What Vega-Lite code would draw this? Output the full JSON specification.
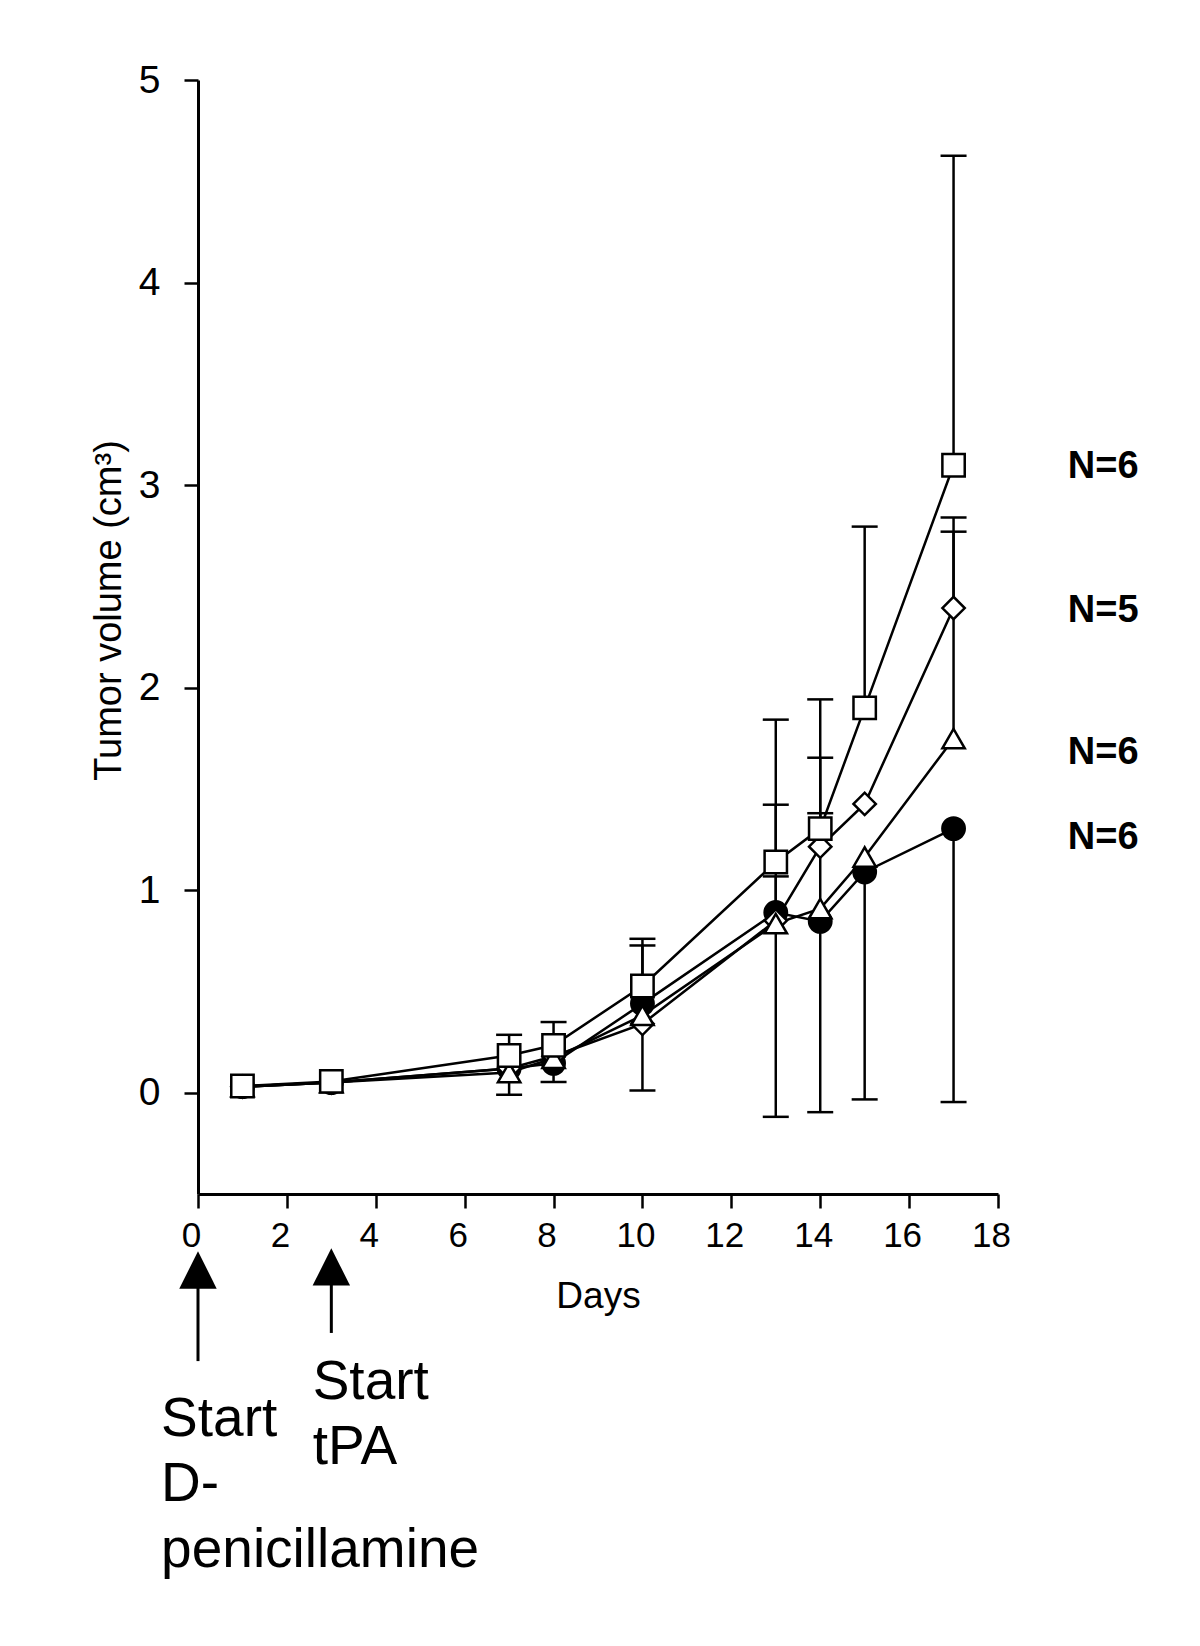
{
  "$schema": "https://vega.github.io/schema/vega-lite/v6.json",
  "width": 800,
  "height": 1114,
  "autosize": {"type": "none"},
  "padding": {"left": 198, "top": 80, "right": 202, "bottom": 452},
  "background": "white",
  "config": {"view": {"stroke": null}, "font": "Liberation Sans"},
  "datasets": {
    "series": [
      {"group": "circle", "day": 1, "vol": 0.03, "err": null},
      {"group": "circle", "day": 3, "vol": 0.05, "err": null},
      {"group": "circle", "day": 7, "vol": 0.12, "err": -0.01},
      {"group": "circle", "day": 8, "vol": 0.145, "err": 0.053},
      {"group": "circle", "day": 10, "vol": 0.44, "err": 0.011},
      {"group": "circle", "day": 13, "vol": 0.89, "err": -0.119},
      {"group": "circle", "day": 14, "vol": 0.846, "err": -0.096},
      {"group": "circle", "day": 15, "vol": 1.09, "err": -0.033},
      {"group": "circle", "day": 17, "vol": 1.304, "err": -0.046},
      {"group": "diamond", "day": 1, "vol": 0.03, "err": null},
      {"group": "diamond", "day": 3, "vol": 0.05, "err": null},
      {"group": "diamond", "day": 7, "vol": 0.12, "err": null},
      {"group": "diamond", "day": 8, "vol": 0.18, "err": null},
      {"group": "diamond", "day": 10, "vol": 0.34, "err": null},
      {"group": "diamond", "day": 13, "vol": 0.85, "err": 1.422},
      {"group": "diamond", "day": 14, "vol": 1.215, "err": 1.654},
      {"group": "diamond", "day": 15, "vol": 1.426, "err": null},
      {"group": "diamond", "day": 17, "vol": 2.393, "err": 2.77},
      {"group": "triangle", "day": 1, "vol": 0.03, "err": null},
      {"group": "triangle", "day": 3, "vol": 0.05, "err": null},
      {"group": "triangle", "day": 7, "vol": 0.1, "err": null},
      {"group": "triangle", "day": 8, "vol": 0.17, "err": null},
      {"group": "triangle", "day": 10, "vol": 0.382, "err": 0.727},
      {"group": "triangle", "day": 13, "vol": 0.835, "err": 1.068},
      {"group": "triangle", "day": 14, "vol": 0.909, "err": 1.38},
      {"group": "triangle", "day": 15, "vol": 1.164, "err": null},
      {"group": "triangle", "day": 17, "vol": 1.748, "err": 2.84},
      {"group": "square", "day": 1, "vol": 0.033, "err": null},
      {"group": "square", "day": 3, "vol": 0.056, "err": null},
      {"group": "square", "day": 7, "vol": 0.184, "err": 0.286},
      {"group": "square", "day": 8, "vol": 0.234, "err": 0.349},
      {"group": "square", "day": 10, "vol": 0.527, "err": 0.76},
      {"group": "square", "day": 13, "vol": 1.139, "err": 1.842},
      {"group": "square", "day": 14, "vol": 1.304, "err": 1.942},
      {"group": "square", "day": 15, "vol": 1.9, "err": 2.795},
      {"group": "square", "day": 17, "vol": 3.098, "err": 4.626}
    ],
    "nlabels": [
      {"day": 19.57, "vol": 3.035, "label": "N=6"},
      {"day": 19.57, "vol": 2.326, "label": "N=5"},
      {"day": 19.57, "vol": 1.621, "label": "N=6"},
      {"day": 19.57, "vol": 1.201, "label": "N=6"}
    ],
    "shafts": [
      {"day": 0, "vol": -0.92, "vol2": -1.325},
      {"day": 3, "vol": -0.92, "vol2": -1.186}
    ],
    "heads": [
      {"day": 0, "vol": -0.875},
      {"day": 3, "vol": -0.86}
    ],
    "notes": [
      {"day": -0.83, "vol": -1.694, "label": ["Start", "D-", "penicillamine"]},
      {"day": 2.58, "vol": -1.511, "label": ["Start", "tPA"]}
    ]
  },
  "encoding": {
    "x": {
      "field": "day",
      "type": "quantitative",
      "scale": {"domain": [0, 18], "nice": false, "zero": false},
      "axis": {
        "title": "Days",
        "values": [0, 2, 4, 6, 8, 10, 12, 14, 16, 18],
        "grid": false,
        "tickSize": 14,
        "tickWidth": 2.5,
        "tickColor": "black",
        "domainColor": "black",
        "domainWidth": 3,
        "labelFont": "Liberation Sans",
        "labelFontSize": 35,
        "labelColor": "black",
        "labelPadding": 10,
        "labelOffset": -7,
        "labelFlush": false,
        "labelOverlap": false,
        "titleFont": "Liberation Sans",
        "titleFontSize": 37,
        "titleFontWeight": "normal",
        "titleColor": "black",
        "titleY": 84
      }
    },
    "y": {
      "field": "vol",
      "type": "quantitative",
      "scale": {"domain": [-0.5, 5], "nice": false, "zero": false},
      "axis": {
        "title": "Tumor volume (cm³)",
        "values": [0, 1, 2, 3, 4, 5],
        "grid": false,
        "tickSize": 14,
        "tickWidth": 2.5,
        "tickColor": "black",
        "domainColor": "black",
        "domainWidth": 3,
        "labelFont": "Liberation Sans",
        "labelFontSize": 39,
        "labelColor": "black",
        "labelPadding": 24,
        "labelDy": 3,
        "labelFlush": false,
        "labelOverlap": false,
        "titleFont": "Liberation Sans",
        "titleFontSize": 38,
        "titleFontWeight": "normal",
        "titleColor": "black",
        "titleX": -70,
        "titleY": 530
      }
    }
  },
  "layer": [
    {
      "data": {"name": "series"},
      "transform": [{"filter": "datum.err != null"}],
      "mark": {"type": "rule", "color": "black", "strokeWidth": 2.5},
      "encoding": {"y2": {"field": "err"}}
    },
    {
      "data": {"name": "series"},
      "transform": [{"filter": "datum.err != null"}],
      "mark": {"type": "point", "shape": "M-1,0L1,0", "size": 676, "filled": false, "stroke": "black", "strokeWidth": 2.5, "opacity": 1},
      "encoding": {"y": {"field": "err", "type": "quantitative"}}
    },
    {
      "data": {"name": "series"},
      "mark": {"type": "line", "color": "black", "strokeWidth": 2.5},
      "encoding": {"detail": {"field": "group"}}
    },
    {
      "data": {"name": "series"},
      "mark": {"type": "point", "filled": true, "stroke": "black", "strokeWidth": 2.5, "size": 500, "opacity": 1},
      "encoding": {
        "shape": {
          "field": "group",
          "type": "nominal",
          "scale": {"domain": ["circle", "diamond", "triangle", "square"], "range": ["circle", "diamond", "triangle-up", "square"]},
          "legend": null
        },
        "fill": {
          "field": "group",
          "type": "nominal",
          "scale": {"domain": ["circle", "diamond", "triangle", "square"], "range": ["black", "white", "white", "white"]},
          "legend": null
        }
      }
    },
    {
      "data": {"name": "nlabels"},
      "mark": {"type": "text", "align": "left", "baseline": "alphabetic", "fontSize": 38, "fontWeight": "bold", "font": "Liberation Sans", "color": "black", "clip": false},
      "encoding": {"text": {"field": "label"}}
    },
    {
      "data": {"name": "shafts"},
      "mark": {"type": "rule", "color": "black", "strokeWidth": 3, "clip": false},
      "encoding": {"y2": {"field": "vol2"}}
    },
    {
      "data": {"name": "heads"},
      "mark": {"type": "point", "shape": "M0,-1L-1,1L1,1Z", "size": 1400, "filled": true, "fill": "black", "strokeWidth": 0, "opacity": 1, "clip": false},
      "encoding": {}
    },
    {
      "data": {"name": "notes"},
      "mark": {"type": "text", "align": "left", "baseline": "alphabetic", "fontSize": 55, "lineHeight": 65.5, "font": "Liberation Sans", "color": "black", "clip": false},
      "encoding": {"text": {"field": "label"}}
    }
  ]
}
